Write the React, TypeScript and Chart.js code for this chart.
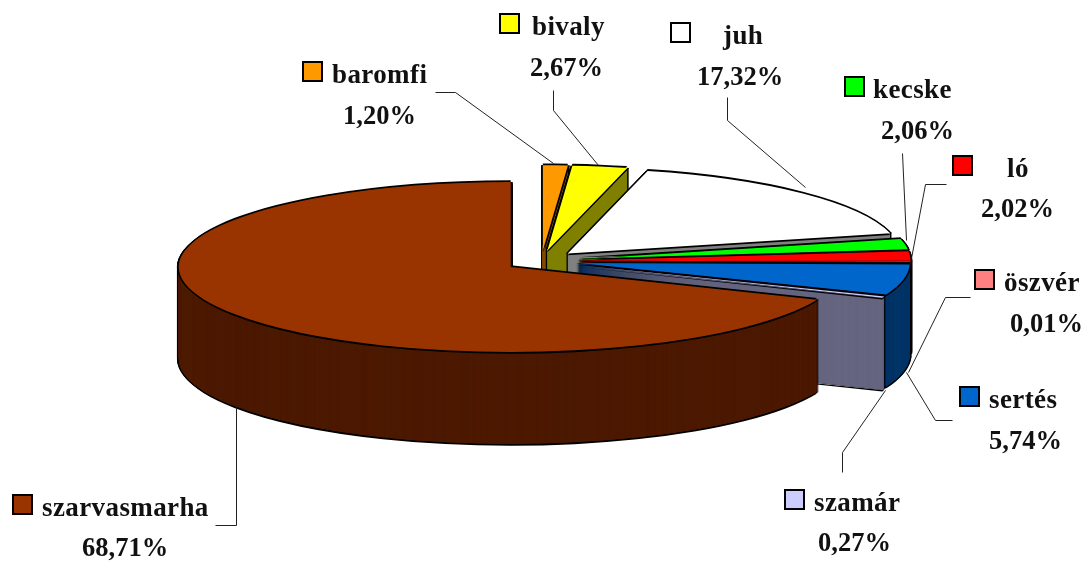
import React, { useEffect, useRef } from "react";
import { Chart, registerables } from "chart.js";

Chart.register(...registerables);

const categories = ["baromfi", "bivaly", "juh", "kecske", "ló", "öszvér", "sertés", "szamár", "szarvasmarha"];
const shares = [1.2, 2.67, 17.32, 2.06, 2.02, 0.01, 5.74, 0.27, 68.71];
const topColors = ["#FF9900", "#FFFF00", "#FFFFFF", "#00FF00", "#FF0000", "#FF8080", "#0066CC", "#CCCCFF", "#993300"];
const wallColors = ["#804D00", "#808000", "#808080", "#008000", "#800000", "#804040", "#003366", "#666680", "#4D1A00"];

// label layout: key left/top, name left/baseline, percent left/baseline
const keyX = [303, 500, 671, 845, 953, 975, 960, 785, 13];
const keyY = [62, 14, 23, 77, 156, 270, 387, 490, 495];
const nameX = [332, 532, 723, 873, 1007, 1004, 989, 814, 42];
const nameY = [83, 35, 44, 98, 177, 291, 408, 511, 516];
const pctX = [343, 530, 697, 881, 981, 1010, 989, 818, 82];
const pctY = [124, 76, 85, 139, 217, 332, 449, 551, 556];

// leader lines from each label to its slice
const leaders: number[][][] = [
  [[435, 92], [455, 92], [553, 163]],
  [[553, 90], [553, 110], [598, 165]],
  [[727, 97], [727, 120], [805, 187]],
  [[902, 153], [906, 240]],
  [[946, 184], [925, 184], [911, 258]],
  [[970, 297], [945, 297], [908, 372]],
  [[952, 420], [935, 420], [906, 372]],
  [[842, 472], [842, 452], [885, 390]],
  [[215, 525], [236, 525], [236, 405]],
];

const TILT = 0.256;
const DEPTH = 92;
const EXPLODE = 37;
const EXPLODE_Y = 42;
const EDGE = 1.8;
const NAME_FONT = "bold 27px 'Liberation Serif'";
const PCT_FONT = "bold 26.5px 'Liberation Serif'";

const pie3d = {
  id: "pie3d",
  beforeDatasetDraw(chart: any, args: any) {
    const ctx = chart.ctx;
    const arcs = args.meta.data;
    const paint = (arc: any, color: string, dx: number, dy: number) => {
      const base = arc.options;
      const mid = (arc.startAngle + arc.endAngle) / 2;
      arc.options = Object.create(base, {
        backgroundColor: { value: color },
        borderWidth: { value: 0 },
      });
      ctx.save();
      ctx.translate(arc.x + dx, arc.y + dy);
      ctx.scale(1, TILT);
      ctx.translate(Math.cos(mid) * EXPLODE - arc.x, Math.sin(mid) * EXPLODE_Y - arc.y);
      arc.draw(ctx);
      ctx.restore();
      arc.options = base;
    };
    arcs.forEach((arc: any, i: number) => {
      paint(arc, "#000000", 0, DEPTH + EDGE);
      for (let d = DEPTH; d >= 0; d -= 1) {
        paint(arc, "#000000", -EDGE, d);
        paint(arc, "#000000", EDGE, d);
      }
      for (let d = DEPTH; d >= 0; d -= 0.25) paint(arc, wallColors[i], 0, d);
      paint(arc, "#000000", 0, -EDGE);
      paint(arc, "#000000", 0, EDGE);
      paint(arc, "#000000", -EDGE, 0);
      paint(arc, "#000000", EDGE, 0);
      paint(arc, topColors[i], 0, 0);
    });
    return false;
  },
  afterDraw(chart: any) {
    const ctx = chart.ctx;
    ctx.save();
    ctx.strokeStyle = "#222222";
    ctx.lineWidth = 1;
    leaders.forEach((pts) => {
      ctx.beginPath();
      pts.forEach(([x, y], j) => (j ? ctx.lineTo(x + 0.5, y + 0.5) : ctx.moveTo(x + 0.5, y + 0.5)));
      ctx.stroke();
    });
    ctx.textAlign = "left";
    ctx.textBaseline = "alphabetic";
    categories.forEach((name, i) => {
      ctx.fillStyle = topColors[i];
      ctx.fillRect(keyX[i], keyY[i], 19, 19);
      ctx.strokeStyle = "#000000";
      ctx.lineWidth = 2;
      ctx.strokeRect(keyX[i], keyY[i], 19, 19);
      ctx.fillStyle = "#111111";
      ctx.font = NAME_FONT;
      ctx.letterSpacing = "0.4px";
      ctx.fillText(name, nameX[i], nameY[i]);
      ctx.font = PCT_FONT;
      ctx.letterSpacing = "0px";
      ctx.fillText(shares[i].toFixed(2).replace(".", ",") + "%", pctX[i], pctY[i]);
    });
    ctx.restore();
  },
};

export default function App() {
  const ref = useRef<HTMLCanvasElement>(null);
  useEffect(() => {
    const chart = new Chart(ref.current as HTMLCanvasElement, {
      type: "pie",
      data: {
        labels: categories,
        datasets: [
          {
            data: shares,
            backgroundColor: topColors,
            borderWidth: 0,
            clip: false,
          } as any,
        ],
      },
      options: {
        animation: false,
        responsive: false,
        radius: 332,
        rotation: 0,
        layout: { padding: { right: 4, bottom: 39 } },
        plugins: { legend: { display: false }, tooltip: { enabled: false } },
      } as any,
      plugins: [pie3d],
    });
    return () => chart.destroy();
  }, []);
  return (
    <canvas
      ref={ref}
      width={1087}
      height={561}
      style={{ position: "absolute", left: 0, top: 0, display: "block" }}
    />
  );
}
